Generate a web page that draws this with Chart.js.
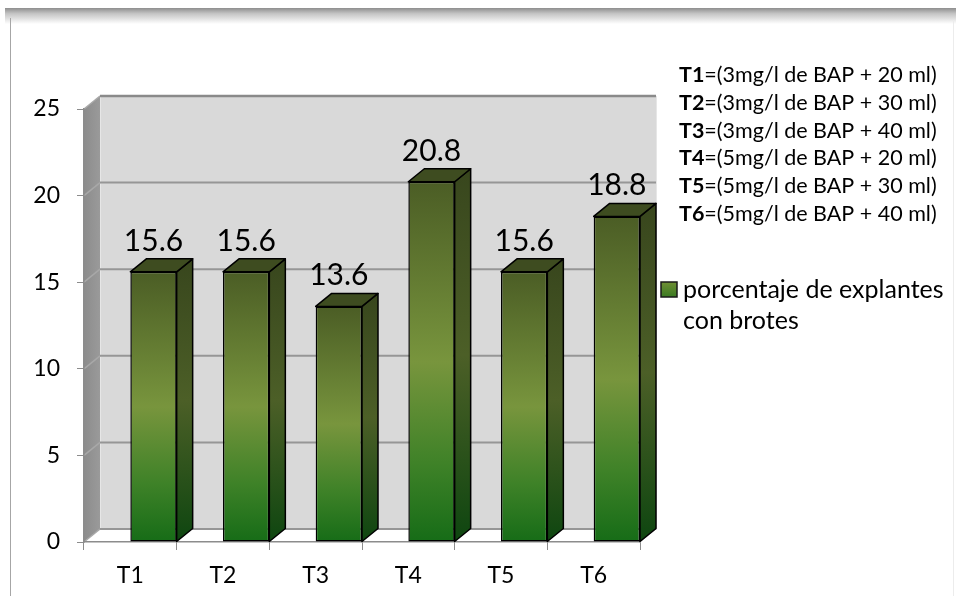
<!DOCTYPE html>
<html>
<head>
<meta charset="utf-8">
<script src="https://cdn.jsdelivr.net/npm/chart.js@4.4.1/dist/chart.umd.min.js"></script>
<style>
  html, body { margin: 0; padding: 0; background: #ffffff; }
  canvas { display: block; }
</style>
</head>
<body>
<canvas id="chart" width="956" height="596"></canvas>
<script>
// Treatments and the share of explants that produced shoots
const categories = ['T1', 'T2', 'T3', 'T4', 'T5', 'T6'];
const values = [15.6, 15.6, 13.6, 20.8, 15.6, 18.8];
const seriesName = 'porcentaje de explantes con brotes';
const seriesNameLines = ['porcentaje de explantes', 'con brotes'];

// Value axis
const yMin = 0;
const yMax = 25;
const yStep = 5;

// Key describing each treatment
const treatmentCodes = ['T1', 'T2', 'T3', 'T4', 'T5', 'T6'];
const treatmentDescriptions = [
  '=(3mg/l de BAP + 20 ml)',
  '=(3mg/l de BAP + 30 ml)',
  '=(3mg/l de BAP + 40 ml)',
  '=(5mg/l de BAP + 20 ml)',
  '=(5mg/l de BAP + 30 ml)',
  '=(5mg/l de BAP + 40 ml)'
];

const FONT = 'Lato, "Open Sans", sans-serif';
const DEPTH_X = 16;   // oblique depth of the 3-D box
const DEPTH_Y = -13;

function frontGradient(ctx2d, top, bottom) {
  const g = ctx2d.createLinearGradient(0, top, 0, bottom);
  g.addColorStop(0, '#4b5d25');
  g.addColorStop(0.5, '#78953d');
  g.addColorStop(0.78, '#3f8228');
  g.addColorStop(1, '#166c17');
  return g;
}
function sideGradient(ctx2d, top, bottom) {
  const g = ctx2d.createLinearGradient(0, top, 0, bottom);
  g.addColorStop(0, '#38461d');
  g.addColorStop(0.5, '#4c5f27');
  g.addColorStop(1, '#0e4610');
  return g;
}

// Page frame, back wall, side wall, floor and gridlines
const wallsPlugin = {
  id: 'walls',
  beforeDraw(chart) {
    const { ctx, chartArea: a, scales: { y } } = chart;
    const W = chart.width, H = chart.height;
    ctx.save();
    ctx.fillStyle = '#ffffff';
    ctx.fillRect(0, 0, W, H);

    // shaded top edge of the sheet
    const band = ctx.createLinearGradient(0, 8, 0, 24);
    band.addColorStop(0, '#8e8e8e');
    band.addColorStop(0.35, '#c4c4c4');
    band.addColorStop(1, '#ffffff');
    ctx.fillStyle = band;
    ctx.fillRect(5, 8, W - 5, 16);
    ctx.strokeStyle = '#a6a6a6';
    ctx.lineWidth = 1;
    ctx.beginPath();
    ctx.moveTo(10.5, 18);
    ctx.lineTo(10.5, H);
    ctx.stroke();
    ctx.strokeStyle = '#ececec';
    ctx.beginPath();
    ctx.moveTo(W - 2.5, 20);
    ctx.lineTo(W - 2.5, H);
    ctx.stroke();

    const L = a.left, R = a.right, T = a.top, B = a.bottom;
    const dx = DEPTH_X, dy = DEPTH_Y;

    // back wall
    ctx.fillStyle = '#d9d9d9';
    ctx.fillRect(L + dx, T + dy, R - L, B - T);
    ctx.strokeStyle = '#e6e6e6';
    ctx.strokeRect(L + dx + 0.5, T + dy + 0.5, R - L, B - T);

    // side wall
    const sg = ctx.createLinearGradient(L, 0, L + dx, 0);
    sg.addColorStop(0, '#8c8c8c');
    sg.addColorStop(1, '#9a9a9a');
    ctx.fillStyle = sg;
    ctx.beginPath();
    ctx.moveTo(L, T);
    ctx.lineTo(L + dx, T + dy);
    ctx.lineTo(L + dx, B + dy);
    ctx.lineTo(L, B);
    ctx.closePath();
    ctx.fill();

    // floor
    ctx.fillStyle = '#ffffff';
    ctx.beginPath();
    ctx.moveTo(L, B);
    ctx.lineTo(L + dx, B + dy);
    ctx.lineTo(R + dx, B + dy);
    ctx.lineTo(R, B);
    ctx.closePath();
    ctx.fill();
    ctx.strokeStyle = '#bfbfbf';
    ctx.lineWidth = 1;
    ctx.beginPath();
    ctx.moveTo(R, B);
    ctx.lineTo(R + dx, B + dy);
    ctx.stroke();

    // gridlines across side wall and back wall
    for (let v = yMin; v <= yMax; v += yStep) {
      const py = y.getPixelForValue(v);
      ctx.strokeStyle = '#a8a8a8';
      ctx.lineWidth = 1.5;
      ctx.beginPath();
      ctx.moveTo(L, py);
      ctx.lineTo(L + dx, py + dy);
      ctx.stroke();
      ctx.strokeStyle = v === yMax ? '#8a8a8a' : '#969696';
      ctx.lineWidth = v === yMax ? 2.5 : 2;
      ctx.beginPath();
      ctx.moveTo(L + dx, py + dy);
      ctx.lineTo(R + dx, py + dy);
      ctx.stroke();
    }
    ctx.restore();
  }
};

// Front faces sit in the right half of each category; side/top faces and value labels
const boxPlugin = {
  id: 'box3d',
  beforeDatasetsDraw(chart) {
    const meta = chart.getDatasetMeta(0);
    const w = meta.data.length ? meta.data[0].width : 0;
    chart.ctx.save();
    chart.ctx.translate(w / 2, 0);
  },
  afterDatasetsDraw(chart) {
    const { ctx } = chart;
    ctx.restore();
    const meta = chart.getDatasetMeta(0);
    const dx = DEPTH_X, dy = DEPTH_Y;
    ctx.save();
    ctx.lineJoin = 'round';
    meta.data.forEach((el, i) => {
      const p = el.getProps(['x', 'y', 'base', 'width'], true);
      const L = p.x, R = p.x + p.width, T = p.y, B = p.base;

      // side face
      ctx.fillStyle = sideGradient(ctx, T + dy, B);
      ctx.beginPath();
      ctx.moveTo(R, T);
      ctx.lineTo(R + dx, T + dy);
      ctx.lineTo(R + dx, B + dy);
      ctx.lineTo(R, B);
      ctx.closePath();
      ctx.fill();
      ctx.strokeStyle = '#000000';
      ctx.lineWidth = 1.5;
      ctx.stroke();

      // top face
      ctx.fillStyle = '#3e4c20';
      ctx.beginPath();
      ctx.moveTo(L, T);
      ctx.lineTo(L + dx, T + dy);
      ctx.lineTo(R + dx, T + dy);
      ctx.lineTo(R, T);
      ctx.closePath();
      ctx.fill();
      ctx.stroke();

      // value label
      ctx.fillStyle = '#000000';
      ctx.font = '30px ' + FONT;
      ctx.textAlign = 'center';
      ctx.textBaseline = 'alphabetic';
      ctx.fillText(String(values[i]), (L + R) / 2, T - 21);
    });
    ctx.restore();
  },
  afterDraw(chart) {
    const { ctx } = chart;
    ctx.save();
    ctx.fillStyle = '#000000';
    ctx.textBaseline = 'alphabetic';
    ctx.textAlign = 'left';
    // treatment key
    const x0 = 679;
    treatmentCodes.forEach((code, i) => {
      const by = 82 + i * 27.8;
      ctx.font = 'bold 21.5px ' + FONT;
      ctx.fillText(code, x0, by);
      const cw = ctx.measureText(code).width;
      ctx.font = '21.5px ' + FONT;
      ctx.fillText(treatmentDescriptions[i], x0 + cw, by);
    });
    // series key
    const sq = ctx.createLinearGradient(0, 282, 0, 297);
    sq.addColorStop(0, '#6f8f34');
    sq.addColorStop(1, '#3a7a22');
    ctx.fillStyle = sq;
    ctx.fillRect(661, 282, 16, 15);
    ctx.strokeStyle = '#1a1a1a';
    ctx.lineWidth = 1.5;
    ctx.strokeRect(661, 282, 16, 15);
    ctx.fillStyle = '#000000';
    ctx.font = '25px ' + FONT;
    ctx.fillText(seriesNameLines[0], 683, 298);
    ctx.fillText(seriesNameLines[1], 683, 329);
    ctx.restore();
  }
};

new Chart(document.getElementById('chart'), {
  type: 'bar',
  data: {
    labels: categories,
    datasets: [{
      label: seriesName,
      data: values,
      backgroundColor(c) {
        const chart = c.chart;
        if (!chart.chartArea || c.raw === undefined) return '#5a7a2e';
        const ys = chart.scales.y;
        return frontGradient(chart.ctx, ys.getPixelForValue(c.raw), ys.getPixelForValue(0));
      },
      borderColor: '#000000',
      borderWidth: 1.5,
      borderSkipped: false,
      barPercentage: 0.5,
      categoryPercentage: 1
    }]
  },
  options: {
    responsive: false,
    animation: false,
    devicePixelRatio: 1,
    layout: { padding: { left: 0, top: 109, right: 316, bottom: 0 } },
    plugins: { legend: { display: false }, tooltip: { enabled: false } },
    scales: {
      x: {
        grid: { display: true, drawOnChartArea: false, drawTicks: true, tickLength: 8, color: '#8c8c8c', offset: true },
        border: { display: true, color: '#8c8c8c', width: 1.5 },
        ticks: { color: '#000000', font: { family: FONT, size: 23 }, padding: 12, maxRotation: 0 },
        afterFit(s) { s.height = 54; }
      },
      y: {
        min: yMin,
        max: yMax,
        grid: { display: true, drawOnChartArea: false, drawTicks: true, tickLength: 7, color: '#8c8c8c' },
        border: { display: true, color: '#8c8c8c', width: 1.5 },
        ticks: { stepSize: yStep, color: '#000000', font: { family: FONT, size: 23 }, padding: 17 },
        afterFit(s) { s.width = 84; }
      }
    }
  },
  plugins: [wallsPlugin, boxPlugin]
});
</script>
</body>
</html>
